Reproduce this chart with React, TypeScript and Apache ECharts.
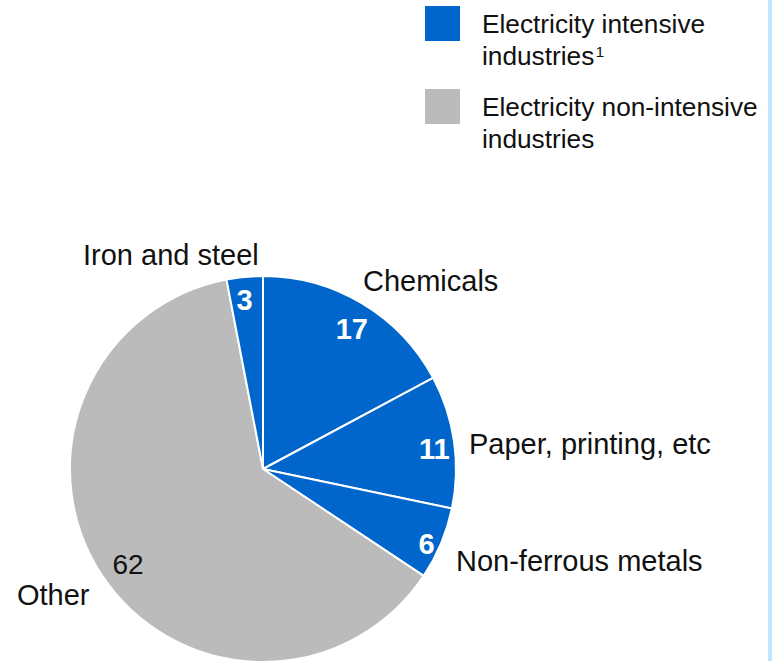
import React, { useEffect, useRef } from "react";
import * as echarts from "echarts";

const categories = ["Chemicals", "Paper, printing, etc", "Non-ferrous metals", "Other", "Iron and steel"];
const values = [17, 11, 6, 62, 3];
const isIntensive = [true, true, true, false, true];
const legendLabels = ["{t|Electricity intensive}\n{t|industries}{s|1}", "{t|Electricity non-intensive}\n{t|industries}"];

const BLUE = "#0066CC";
const GRAY = "#BBBBBB";
const FONT = "Liberation Sans, Arial, sans-serif";

// name label placements (left-aligned x, middle y)
const namePos: [number, number][] = [
  [363, 281],
  [469, 444],
  [456, 561],
  [17, 595],
  [83, 255],
];
// small nudges of the value labels
const valueOffsets: [number, number][] = [
  [0, 8],
  [0, 5],
  [4, 8],
  [9, 0],
  [-2, 3],
];

export default function App() {
  const ref = useRef<HTMLDivElement>(null);
  useEffect(() => {
    if (!ref.current) return;
    const chart = echarts.init(ref.current, null, { renderer: "svg" });
    const pieData = categories.map((c, i) => ({
      name: c,
      value: values[i],
      itemStyle: { color: isIntensive[i] ? BLUE : GRAY },
    }));
    const labelData = categories.map((c, i) => ({
      name: c,
      value: values[i],
      label: isIntensive[i]
        ? { color: "#ffffff", fontWeight: "bold" as const, fontSize: 29, offset: valueOffsets[i] }
        : { color: "#111111", fontWeight: "normal" as const, fontSize: 28, offset: valueOffsets[i] },
    }));
    const graphics: any[] = [
      { type: "rect", shape: { x: 768, y: 0, width: 4, height: 661 }, style: { fill: "#BDE8FF" }, silent: true },
    ];
    [BLUE, GRAY].forEach((col, i) => {
      const y0 = i === 0 ? 6 : 89;
      graphics.push({ type: "rect", shape: { x: 425, y: y0, width: 35, height: 35 }, style: { fill: col } });
      graphics.push({
        type: "text",
        x: 482,
        y: y0 - 1,
        scaleX: 1.05,
        style: {
          text: legendLabels[i],
          fill: "#111111",
          verticalAlign: "top",
          rich: {
            t: { fontFamily: FONT, fontSize: 25, lineHeight: 32, fill: "#111111", verticalAlign: "bottom" },
            s: {
              fontFamily: FONT,
              fontSize: 15,
              lineHeight: 32,
              fill: "#111111",
              verticalAlign: "bottom",
              padding: [0, 0, 10, 1],
            },
          },
        },
      });
    });
    categories.forEach((c, i) => {
      graphics.push({
        type: "text",
        x: namePos[i][0],
        y: namePos[i][1],
        style: { text: c, font: `29px ${FONT}`, fill: "#111111", verticalAlign: "middle", align: "left" },
      });
    });
    chart.setOption({
      animation: false,
      backgroundColor: "#ffffff",
      textStyle: { fontFamily: FONT },
      series: [
        {
          type: "pie",
          center: [263, 469],
          radius: [0, 193],
          startAngle: 90,
          clockwise: true,
          silent: true,
          label: { show: false },
          labelLine: { show: false },
          itemStyle: { borderColor: "#ffffff", borderWidth: 2 },
          data: pieData,
        },
        {
          type: "pie",
          center: [263, 469],
          radius: [150, 190],
          startAngle: 90,
          clockwise: true,
          silent: true,
          itemStyle: { color: "transparent", borderWidth: 0 },
          label: { show: true, position: "inside", formatter: "{c}", fontFamily: FONT },
          labelLine: { show: false },
          data: labelData,
        },
      ],
      graphic: graphics,
    });
    return () => chart.dispose();
  }, []);
  return <div ref={ref} style={{ position: "fixed", left: 0, top: 0, width: 778, height: 661 }} />;
}
